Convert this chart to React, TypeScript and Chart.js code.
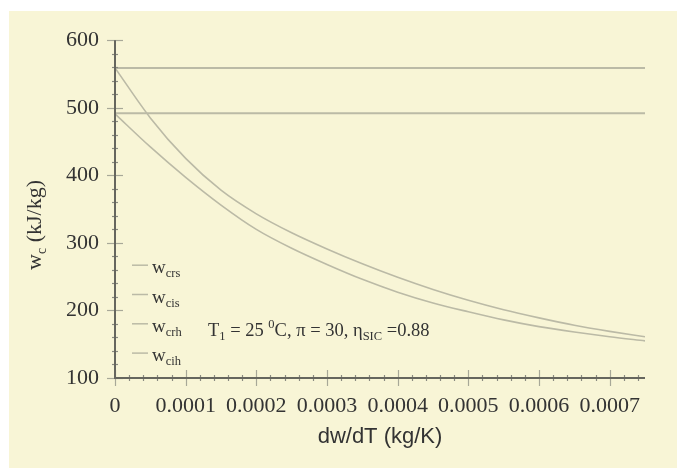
import React, { useEffect, useRef } from "react";
import { Chart, registerables } from "chart.js";

Chart.register(...registerables);

// ---- data ----
const xValues = [0, 0.00005, 0.0001, 0.00015, 0.0002, 0.00025, 0.0003, 0.00035, 0.0004, 0.00045, 0.0005, 0.00055, 0.0006, 0.00065, 0.0007, 0.00075];
const wcihValues = [559, 485, 425, 378, 343, 315, 291, 269, 249, 231, 215, 201, 189, 178, 169, 161];
const wcrhValues = [491, 442, 397, 356, 320, 292, 268, 246, 227, 211, 198, 186, 176, 168, 161, 155];
const wcrsLevel = 492;
const wcisLevel = 559;
const xRange = [0, 0.00075];
const xTickValues = [0, 0.0001, 0.0002, 0.0003, 0.0004, 0.0005, 0.0006, 0.0007];
const yTickValues = [100, 200, 300, 400, 500, 600];
const legendSubs = ["crs", "cis", "crh", "cih"];

const SERIF = "'Liberation Serif', 'Times New Roman', serif";
const SANS = "'Liberation Sans', Arial, sans-serif";
const TEXT = "#333333";
const LINE = "#bbbaa6";

type Part = { t: string; size: number; dy: number };

function drawRich(ctx: CanvasRenderingContext2D, parts: Part[], x: number, y: number, font: string) {
  let cx = x;
  for (const p of parts) {
    ctx.font = `${p.size}px ${font}`;
    ctx.fillText(p.t, cx, y + p.dy);
    cx += ctx.measureText(p.t).width;
  }
}
function richWidth(ctx: CanvasRenderingContext2D, parts: Part[], font: string) {
  let w = 0;
  for (const p of parts) {
    ctx.font = `${p.size}px ${font}`;
    w += ctx.measureText(p.t).width;
  }
  return w;
}

const decorPlugin = {
  id: "decor",
  afterDraw(chart: any) {
    const ctx: CanvasRenderingContext2D = chart.ctx;
    const xs = chart.scales.x;
    const ys = chart.scales.y;
    const area = chart.chartArea;
    ctx.save();
    const x0 = xs.getPixelForValue(0);
    const yb = ys.getPixelForValue(100);
    const yt = ys.getPixelForValue(600);
    const xe = xs.getPixelForValue(xRange[1]);
    // ticks (major every 100 / 0.0001, minor every 20 / 0.00002), crossing the axes
    ctx.lineWidth = 1.2;
    for (let v = 100; v <= 600; v += 20) {
      const py = Math.round(ys.getPixelForValue(v)) + 0.5;
      const major = v % 100 === 0;
      ctx.strokeStyle = major ? "#a8a898" : "#8a8a80";
      ctx.beginPath();
      ctx.moveTo(x0 - (major ? 8 : 3), py);
      ctx.lineTo(x0 + (major ? 8 : 3), py);
      ctx.stroke();
    }
    for (let i = 0; i <= 37; i++) {
      const v = i * 0.00002;
      if (v > xRange[1] + 1e-12) break;
      const px = Math.round(xs.getPixelForValue(v)) + 0.5;
      const major = i % 5 === 0;
      ctx.strokeStyle = major ? "#a8a898" : "#8a8a80";
      ctx.beginPath();
      ctx.moveTo(px, yb - (major ? 8 : 3));
      ctx.lineTo(px, yb + (major ? 8 : 3));
      ctx.stroke();
    }
    ctx.strokeStyle = "#66665e";
    ctx.lineWidth = 2;
    ctx.beginPath();
    ctx.moveTo(x0, yt);
    ctx.lineTo(x0, yb);
    ctx.lineTo(xe, yb);
    ctx.stroke();

    // legend
    ctx.fillStyle = TEXT;
    ctx.textBaseline = "alphabetic";
    chart.data.datasets.forEach((ds: any, i: number) => {
      const ly = area.top + 225 + i * 29.3;
      ctx.strokeStyle = ds.borderColor;
      ctx.lineWidth = 1.5;
      ctx.beginPath();
      ctx.moveTo(area.left + 17, ly);
      ctx.lineTo(area.left + 33, ly);
      ctx.stroke();
      drawRich(ctx, [
        { t: "w", size: 19, dy: 0 },
        { t: legendSubs[i], size: 12.5, dy: 4 },
      ], area.left + 37, ly + 8, SERIF);
    });

    // annotation
    drawRich(ctx, [
      { t: "T", size: 18.5, dy: 0 },
      { t: "1", size: 12.5, dy: 4 },
      { t: " = 25 ", size: 18.5, dy: 0 },
      { t: "0", size: 12.5, dy: -8 },
      { t: "C, \u03c0 = 30, \u03b7", size: 18.5, dy: 0 },
      { t: "SIC", size: 12.5, dy: 4 },
      { t: " =0.88", size: 18.5, dy: 0 },
    ], area.left + 93, area.top + 296, SERIF);

    // y title
    const yParts: Part[] = [
      { t: "w", size: 22, dy: 0 },
      { t: "c", size: 14, dy: 5 },
      { t: " (kJ/kg)", size: 22, dy: 0 },
    ];
    const w = richWidth(ctx, yParts, SERIF);
    ctx.save();
    ctx.translate(32, 214);
    ctx.rotate(-Math.PI / 2);
    drawRich(ctx, yParts, -w / 2, 0, SERIF);
    ctx.restore();

    // x title
    ctx.font = `22px ${SANS}`;
    ctx.textAlign = "center";
    ctx.textBaseline = "middle";
    ctx.fillText("dw/dT (kg/K)", (x0 + xe) / 2, 426);
    ctx.restore();
  },
};

export default function App() {
  const ref = useRef<HTMLCanvasElement>(null);
  useEffect(() => {
    if (!ref.current) return;
    const lineDs = (label: string, data: any[], width: number) => ({
      label,
      data,
      borderColor: LINE,
      borderWidth: width,
      pointRadius: 0,
      fill: false,
      cubicInterpolationMode: "monotone" as const,
    });
    const chart = new Chart(ref.current, {
      type: "line",
      data: {
        datasets: [
          lineDs("wcrs", xRange.map((x) => ({ x, y: wcrsLevel })), 2),
          lineDs("wcis", xRange.map((x) => ({ x, y: wcisLevel })), 2),
          lineDs("wcrh", xValues.map((x, i) => ({ x, y: wcrhValues[i] })), 1.6),
          lineDs("wcih", xValues.map((x, i) => ({ x, y: wcihValues[i] })), 1.6),
        ],
      },
      options: {
        animation: false,
        responsive: false,
        maintainAspectRatio: false,
        layout: { padding: { top: 28, right: 32, left: 0, bottom: 0 } },
        plugins: { legend: { display: false }, tooltip: { enabled: false } },
        scales: {
          x: {
            type: "linear",
            min: xRange[0],
            max: xRange[1],
            grid: { display: true, color: "transparent", drawOnChartArea: false, drawTicks: false, tickLength: 0 },
            border: { display: false },
            afterBuildTicks: (s: any) => {
              s.ticks = xTickValues.map((value) => ({ value }));
            },
            afterFit: (s: any) => {
              s.height = 90;
            },
            ticks: {
              padding: 15,
              color: TEXT,
              font: { family: SERIF, size: 22 },
              maxRotation: 0,
              autoSkip: false,
              callback: (v: any) => (Number(v) === 0 ? "0" : Number(v).toFixed(4)),
            },
          },
          y: {
            type: "linear",
            min: 100,
            max: 600,
            grid: { display: true, color: "transparent", drawOnChartArea: false, drawTicks: false, tickLength: 0 },
            border: { display: false },
            afterBuildTicks: (s: any) => {
              s.ticks = yTickValues.map((value) => ({ value }));
            },
            afterFit: (s: any) => {
              s.width = 106;
            },
            ticks: {
              padding: 16,
              color: TEXT,
              font: { family: SERIF, size: 22 },
              autoSkip: false,
            },
          },
        },
      },
      plugins: [decorPlugin],
    });
    return () => chart.destroy();
  }, []);

  return (
    <div style={{ position: "fixed", left: 0, top: 0, width: 677, height: 468, background: "#ffffff", overflow: "hidden" }}>
      <div style={{ position: "absolute", left: 9, top: 11, width: 668, height: 457, background: "#f8f5d6" }}>
        <canvas ref={ref} width={668} height={457} style={{ display: "block", width: 668, height: 457 }} />
      </div>
    </div>
  );
}
